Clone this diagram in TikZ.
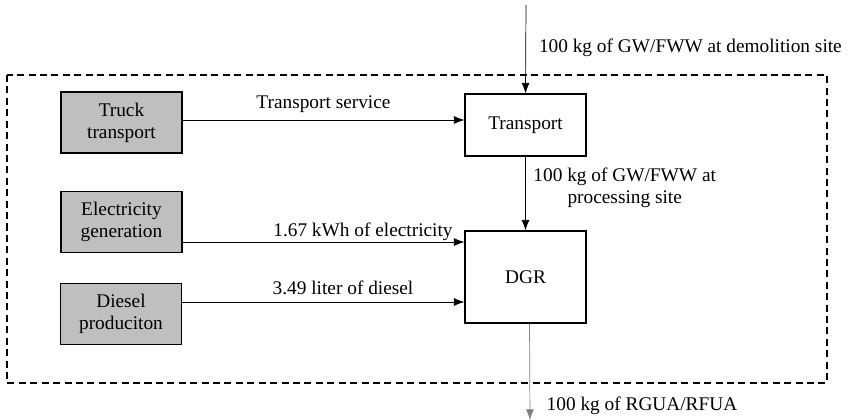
\documentclass[tikz,border=0pt]{standalone}
\usepackage{fontspec}
\setmainfont{Liberation Serif}
\usetikzlibrary{arrows.meta}
\begin{document}
\begin{tikzpicture}[
    font=\rmfamily\fontsize{11pt}{12.5pt}\selectfont,
    proc/.style={draw, line width=0.6pt, minimum width=2.42cm, align=center, inner sep=0pt},
    supply/.style={proc, fill=black!25, minimum height=1.22cm},
    flow/.style={-{Latex[length=6pt,width=4.5pt]}, line width=0.4pt},
  ]
  \useasboundingbox (0, 0) rectangle (17, -8.4);

  % System boundary
  \draw[dashed, line width=0.6pt, dash pattern=on 4pt off 2.5pt] (0.14, -1.5) rectangle (16.54, -7.66);

  % Background processes
  \node[supply] (truck) at (2.43, -2.45) {Truck\\transport};
  \node[supply] (elec) at (2.43, -4.44) {Electricity\\generation};
  \node[supply] (diesel) at (2.42, -6.28) {Diesel\\produciton};

  % Foreground processes
  \node[proc, minimum height=1.24cm] (transport) at (10.51, -2.5) {Transport};
  \node[proc, minimum height=1.84cm] (dgr) at (10.51, -5.54) {DGR};

  % Inputs to the foreground
  \draw[flow] ([yshift=0.05cm]truck.east) -- ([yshift=0.05cm]truck.east -| transport.west)
    node[midway, above=0.5pt] {Transport service};
  \draw[flow] ([yshift=0.22cm]elec.south east) -- ([yshift=0.22cm]elec.south east -| dgr.west)
    node[pos=0.64, above=-3pt] {1.67 kWh of electricity};
  \draw[flow] ([yshift=0.24cm]diesel.east) -- ([yshift=0.24cm]diesel.east -| dgr.west)
    node[pos=0.57, above=0.5pt] {3.49 liter of diesel};

  % Reference flow in and out
  \coordinate (feed) at (10.52, -0.1);
  \coordinate (product) at (10.6, -8.4);
  \draw[flow] (feed) -- (transport.north)
    node[pos=0.48, right=4pt] {100 kg of GW/FWW at demolition site};
  \draw[flow] (transport.south) -- (dgr.north)
    node[midway, right=1pt, align=center, yshift=3pt] {100 kg of GW/FWW at\\processing site};
  \draw[flow, draw=black!50] ([xshift=0.08cm]dgr.south) -- (product)
    node[pos=0.85, right=6pt] {100 kg of RGUA/RFUA};
\end{tikzpicture}
\end{document}
